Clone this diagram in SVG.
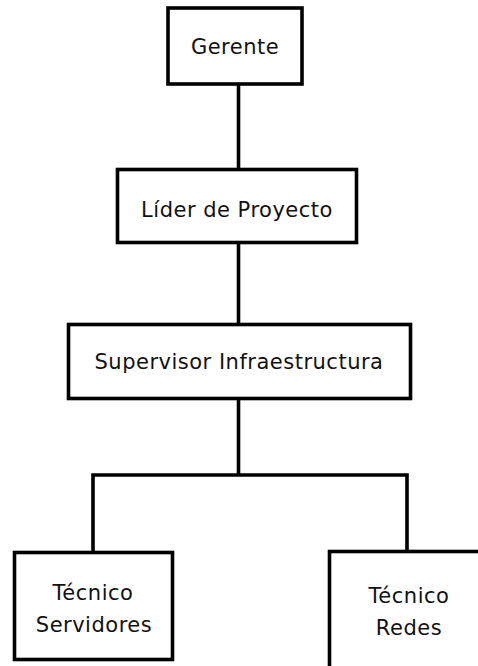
<svg xmlns="http://www.w3.org/2000/svg" width="478" height="666" viewBox="0 0 478 666">
  <style>
    .box { fill: #ffffff; stroke: #000000; stroke-width: 3.6; }
    .link { fill: none; stroke: #000000; stroke-width: 3.6; }
    .label { font-family: "DejaVu Sans", Verdana, sans-serif; font-size: 21px; letter-spacing: 0.5px; fill: #111111; text-anchor: middle; }
  </style>
  <rect width="478" height="666" fill="#ffffff"/>

  <!-- connectors -->
  <g id="connectors">
    <line class="link" x1="238.5" y1="84" x2="238.5" y2="169"/>
    <line class="link" x1="238.5" y1="243" x2="238.5" y2="324"/>
    <line class="link" x1="238.5" y1="399" x2="238.5" y2="475"/>
    <polyline class="link" points="93,552 93,475 407,475 407,551"/>
  </g>

  <g id="gerente">
    <rect class="box" x="168" y="8" width="134" height="76"/>
    <text class="label" x="235" y="54">Gerente</text>
  </g>

  <g id="lider-proyecto">
    <rect class="box" x="117.5" y="169.5" width="239" height="73"/>
    <text class="label" x="237" y="217">Líder de Proyecto</text>
  </g>

  <g id="supervisor-infraestructura">
    <rect class="box" x="68.5" y="324.5" width="342" height="74"/>
    <text class="label" x="239" y="369">Supervisor Infraestructura</text>
  </g>

  <g id="tecnico-servidores">
    <rect class="box" x="14.5" y="552.5" width="158" height="107"/>
    <text class="label" x="93" y="600">Técnico</text>
    <text class="label" x="94" y="632">Servidores</text>
  </g>

  <g id="tecnico-redes">
    <rect class="box" x="329.5" y="551.5" width="158" height="120"/>
    <text class="label" x="409" y="603">Técnico</text>
    <text class="label" x="409" y="635">Redes</text>
  </g>
</svg>
